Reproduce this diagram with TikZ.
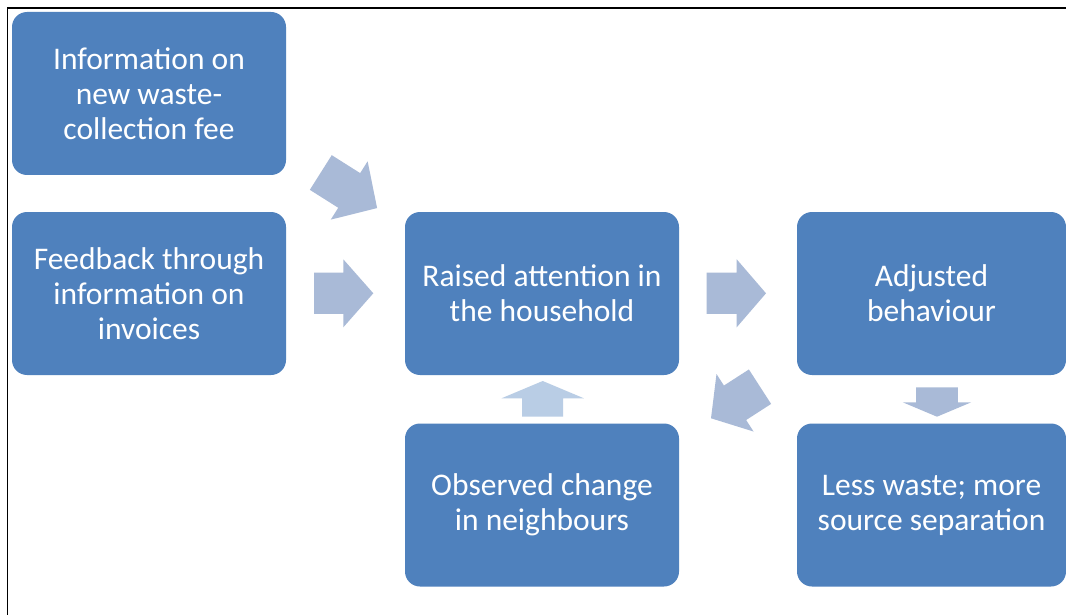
\documentclass[tikz,border=0pt]{standalone}
\usepackage{fontspec}
\setmainfont{Carlito}
\definecolor{boxblue}{HTML}{4F81BD}
\definecolor{arrowblue}{HTML}{A9BAD7}
\definecolor{arrowlight}{HTML}{B9CDE5}
\tikzset{
  box/.style={rounded corners=15pt, fill=boxblue, text=white, minimum width=274pt,
    minimum height=163pt, align=center, inner sep=0pt,
    font=\fontsize{31.5}{35}\selectfont},
  narrowbox/.style={box, minimum width=269pt},
}
% #1 tail centre, #2 rotation, #3 shaft length, #4 head length, #5 shaft half width, #6 head half width, #7 colour
\newcommand\blockarr[7]{%
  \begin{scope}[shift={#1}, rotate=#2]
    \fill[#7] (0,#5) -- (#3,#5) -- (#3,#6) -- ({#3+#4},0) -- (#3,-#6) -- (#3,-#5) -- (0,-#5) -- cycle;
  \end{scope}}
\begin{document}
\begin{tikzpicture}[x=1pt,y=-1pt]
  \useasboundingbox (0,0) rectangle (1066,615);
  \fill[white] (0,0) rectangle (1066,615);
  \draw[line width=1.5pt] (7.5,615) -- (7.5,8) -- (1066,8);

  \node[box] (info) at (149,93.5) {Information on\\new waste-\\collection fee};
  \node[box] (feedback) at (149,293.5) {Feedback through\\information on\\invoices};
  \node[box] (attention) at (542,293.5) {Raised attention in\\the household};
  \node[box] (observed) at (542,505) {Observed change\\in neighbours};
  \node[narrowbox] (adjusted) at (931.5,293.5) {Adjusted\\behaviour};
  \node[narrowbox] (less) at (931.5,505) {Less waste; more\\source separation};

  \blockarr{(320.8,172.5)}{-32.3}{33.6}{33}{20.5}{34.5}{arrowblue}
  \blockarr{(314,293.3)}{0}{29.3}{30}{20.6}{34}{arrowblue}
  \blockarr{(706.7,293.3)}{0}{30}{29.3}{20.6}{34}{arrowblue}
  \blockarr{(760,386.7)}{212.8}{29.7}{28.6}{20.5}{34.2}{arrowblue}
  \blockarr{(937,387.3)}{-90}{15}{14.4}{20.8}{34.2}{arrowblue}
  \blockarr{(542.7,416.7)}{90}{18.4}{17.3}{20.5}{41.2}{arrowlight}
\end{tikzpicture}
\end{document}
